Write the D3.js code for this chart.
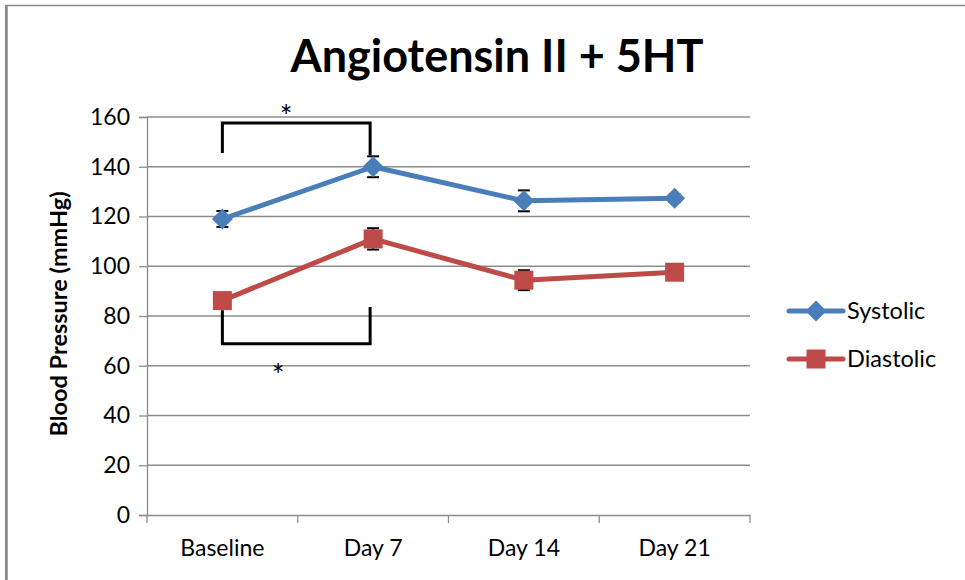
<!DOCTYPE html>
<html>
<head>
<meta charset="utf-8">
<script src="https://cdn.jsdelivr.net/npm/d3@7"></script>
<style>
  body { margin: 0; background: #fff; }
  svg text { font-family: Lato, "Open Sans", sans-serif; fill: #000; }
</style>
</head>
<body>
<svg id="chart" width="965" height="580"></svg>
<script>
// chart data
var days = ["Baseline", "Day 7", "Day 14", "Day 21"];
var systolic = [119, 140, 126.3, 127.3];
var systolicErr = [3.2, 4.2, 4.2, 1.5];
var diastolic = [86.2, 111, 94.4, 97.6];
var diastolicErr = [1.5, 4.3, 4.0, 1.5];
var yTicks = [0, 20, 40, 60, 80, 100, 120, 140, 160];
var seriesNames = ["Systolic", "Diastolic"];
var seriesColors = ["#4a7ebb", "#be4b48"];

// significance brackets: [from category, to category, bracket level, arm ends]
var bracketTop = { from: 0, to: 1, level: 157.6, armEnds: [145.5, 144.6] };
var bracketBottom = { from: 0, to: 1, level: 68.8, armEnds: [82.3, 83.6] };

var svg = d3.select("#chart");
var margin = { left: 147, right: 215, top: 117, bottom: 65 };
var width = 965 - margin.left - margin.right;
var height = 580 - margin.top - margin.bottom;

// outer chart border (cut off at the bottom and right)
svg.append("path")
	.attr("d", "M7,580 V5.5 H965")
	.attr("fill", "none").attr("stroke", "#898989").attr("stroke-width", 1.5);
svg.append("line").attr("x1", 6).attr("x2", 6).attr("y1", 5).attr("y2", 580)
	.attr("stroke", "#898989").attr("stroke-width", 2);

var x = d3.scaleBand().domain(days).range([0, width]);
var y = d3.scaleLinear().domain([0, 160]).range([height, 0]);
var cx = function(i) { return x(days[i]) + x.bandwidth() / 2; };

var g = svg.append("g").attr("transform", "translate(" + margin.left + "," + margin.top + ")");

// gridlines
g.append("g").selectAll("line").data(yTicks.slice(1)).enter().append("line")
	.attr("x1", 0).attr("x2", width)
	.attr("y1", function(d) { return y(d); }).attr("y2", function(d) { return y(d); })
	.attr("stroke", "#8c8c8c").attr("stroke-width", 1.3);

// y axis
var yAxis = g.append("g").call(d3.axisLeft(y).tickValues(yTicks).tickSize(8).tickPadding(9));
yAxis.select(".domain").attr("stroke", "#8c8c8c").attr("stroke-width", 1.3);
yAxis.selectAll(".tick line").attr("stroke", "#8c8c8c").attr("stroke-width", 1.3);
yAxis.selectAll(".tick text").style("font-size", "23px").attr("fill", "#000");

// x axis
var xAxis = g.append("g").attr("transform", "translate(0," + height + ")")
	.call(d3.axisBottom(x).tickSize(0).tickPadding(25));
xAxis.select(".domain").attr("stroke", "#8c8c8c").attr("stroke-width", 1.3);
xAxis.selectAll(".tick text").style("font-size", "23px").attr("fill", "#000");
var xEdges = d3.range(days.length + 1).map(function(i) { return i * x.bandwidth(); });
xAxis.selectAll("line.edge").data(xEdges).enter().append("line").attr("class", "edge")
	.attr("x1", function(d) { return d; }).attr("x2", function(d) { return d; })
	.attr("y1", 0).attr("y2", 8)
	.attr("stroke", "#8c8c8c").attr("stroke-width", 1.3);

// title and axis title
svg.append("text").attr("x", 497).attr("y", 72).attr("text-anchor", "middle")
	.style("font-size", "45px").style("font-weight", "bold").text("Angiotensin II + 5HT");
svg.append("text")
	.attr("transform", "translate(67," + (margin.top + height / 2 - 2) + ") rotate(-90)")
	.attr("text-anchor", "middle")
	.style("font-size", "23.5px").style("font-weight", "bold").text("Blood Pressure (mmHg)");

// series
var diamond = { draw: function(ctx, size) {
	var r = Math.sqrt(size) / 2;
	ctx.moveTo(0, -r); ctx.lineTo(r, 0); ctx.lineTo(0, r); ctx.lineTo(-r, 0); ctx.closePath();
} };
var series = [
	{ name: seriesNames[0], values: systolic, err: systolicErr, color: seriesColors[0], shape: diamond, size: 441 },
	{ name: seriesNames[1], values: diastolic, err: diastolicErr, color: seriesColors[1], shape: d3.symbolSquare, size: 361 }
];

var line = d3.line().x(function(d, i) { return cx(i); }).y(function(d) { return y(d); });

series.forEach(function(s) {
	// error bars
	var eb = g.append("g");
	s.values.forEach(function(v, i) {
		var e = s.err[i];
		eb.append("line").attr("x1", cx(i)).attr("x2", cx(i))
			.attr("y1", y(v + e)).attr("y2", y(v - e)).attr("stroke", "#000").attr("stroke-width", 1.5);
		[v + e, v - e].forEach(function(t) {
			eb.append("line").attr("x1", cx(i) - 6).attr("x2", cx(i) + 6)
				.attr("y1", y(t)).attr("y2", y(t)).attr("stroke", "#000").attr("stroke-width", 2);
		});
	});
	g.append("path").datum(s.values).attr("d", line)
		.attr("fill", "none").attr("stroke", s.color).attr("stroke-width", 5)
		.attr("stroke-linejoin", "round").attr("stroke-linecap", "round");
	g.selectAll(null).data(s.values).enter().append("path")
		.attr("d", d3.symbol().type(s.shape).size(s.size))
		.attr("transform", function(d, i) { return "translate(" + cx(i) + "," + y(d) + ")"; })
		.attr("fill", s.color);
});

// significance brackets
function drawBracket(b, starAbove) {
	var x1 = cx(b.from), x2 = cx(b.to) - 3;
	g.append("path")
		.attr("d", "M" + x1 + "," + y(b.armEnds[0]) + " V" + y(b.level) + " H" + x2 + " V" + y(b.armEnds[1]))
		.attr("fill", "none").attr("stroke", "#000").attr("stroke-width", 3);
	var sx = (x1 + x2) / 2 + (starAbove ? -10 : -18);
	var sy = starAbove ? y(b.level) + 4 : y(b.level) + 42;
	g.append("text").attr("x", sx).attr("y", sy).attr("text-anchor", "middle")
		.style("font-size", "30px").text("*");
}
drawBracket(bracketTop, true);
drawBracket(bracketBottom, false);

// legend
var legend = svg.append("g").attr("transform", "translate(789,311)");
series.forEach(function(s, i) {
	var lg = legend.append("g").attr("transform", "translate(0," + (i * 48) + ")");
	lg.append("line").attr("x1", 0).attr("x2", 54).attr("y1", 0).attr("y2", 0)
		.attr("stroke", s.color).attr("stroke-width", 5).attr("stroke-linecap", "round");
	lg.append("path").attr("d", d3.symbol().type(s.shape).size(s.size)).attr("transform", "translate(27,0)")
		.attr("fill", s.color);
	lg.append("text").attr("x", 58).attr("y", 8).style("font-size", "23.5px").text(s.name);
});
</script>
</body>
</html>
